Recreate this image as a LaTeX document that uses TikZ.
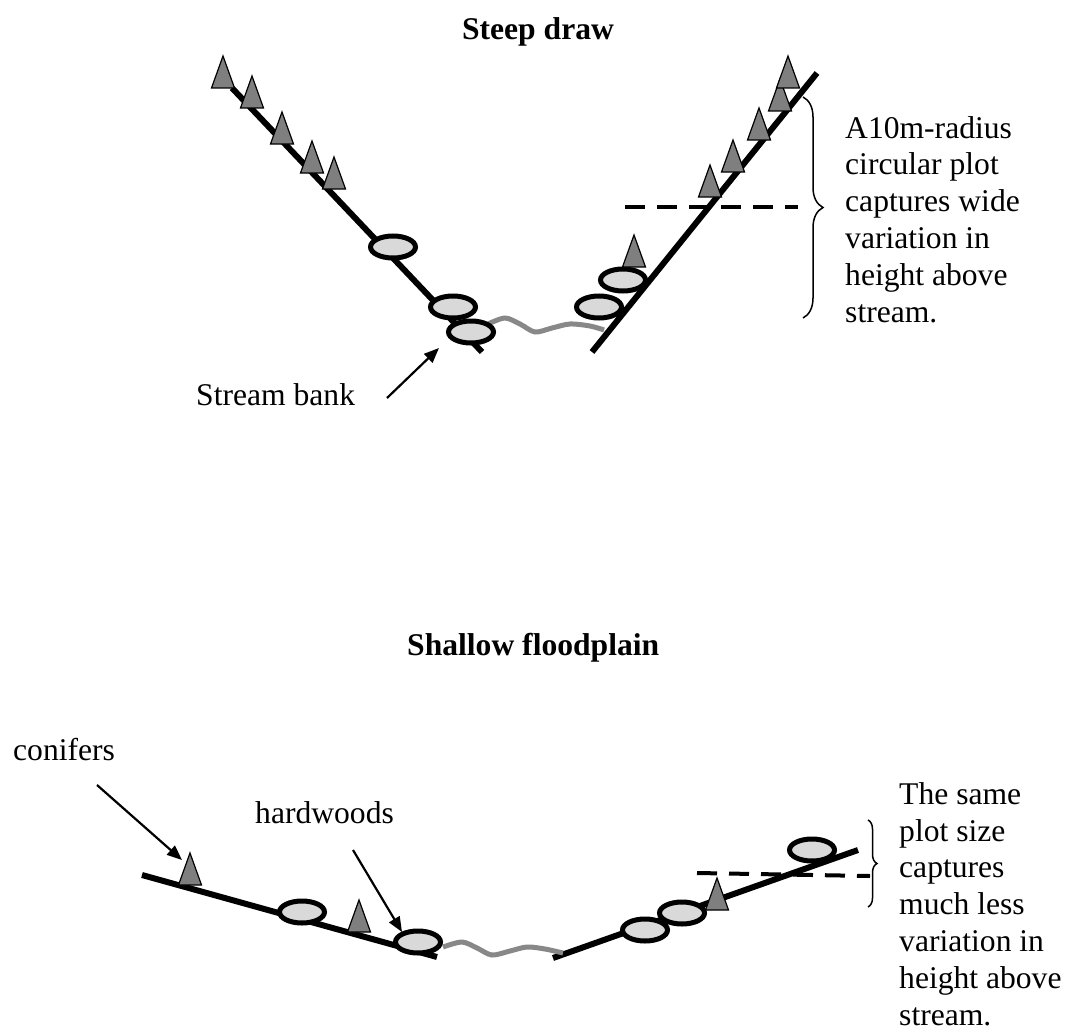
\documentclass[tikz,border=0pt]{standalone}
\usepackage{fontspec}
\setmainfont{Liberation Serif}
\usetikzlibrary{decorations.pathreplacing,arrows.meta}
\definecolor{trigray}{HTML}{7F7F7F}
\definecolor{ellgray}{HTML}{D9D9D9}
\definecolor{streamgray}{HTML}{888888}
\begin{document}
\begin{tikzpicture}[x=1pt,y=-1pt,
  ground/.style={line width=6pt},
  streamline/.style={line width=5pt,draw=streamgray},
  plotline/.style={line width=4pt,dash pattern=on 20pt off 12pt},
  bracestyle/.style={line width=1.5pt,decorate},
  pointer/.style={line width=2.2pt,-{Triangle[length=15pt,width=12pt]}},
  lbl/.style={inner sep=0pt,font=\fontsize{31.6}{36.8}\selectfont},
  ttl/.style={inner sep=0pt,font=\fontsize{31.6}{36.8}\selectfont\bfseries},
  tree/.pic={\draw[fill=trigray,line width=1.2pt,line join=miter] (-11.5,0)--(11.5,0)--(0,-32)--cycle;},
  hard/.pic={\draw[fill=ellgray,line width=5pt] (0,0) ellipse [x radius=22.5pt,y radius=11pt];}
]
\useasboundingbox (0,0) rectangle (1067,1030);

% ---------- Steep draw ----------
\node[ttl,anchor=base] (t1) at (538,40) {Steep draw};

\draw[ground] (232,88) -- (482,352);
\draw[streamline] plot[smooth] coordinates {(488,324) (505,318) (520,324) (535,332) (552,328) (570,324) (590,326) (604,330)};
\draw[ground] (592,352) -- (817,73);

\draw[plotline] (625,207) -- (798,207);

\foreach \p in {(393,247),(453,307),(471,332),(599,307),(623,280)} \pic at \p {hard};
\foreach \p in {(223,88),(252,108),(282,144),(312,173),(334,189),
                (634,267),(710,197),(733,172),(759,140),(780,111),(788,88)} \pic at \p {tree};

\draw[bracestyle,decoration={brace,amplitude=20pt}] (803,97) -- (803,318);
\node[lbl,anchor=base west,align=left] (note1) at (845,322)
  {A10m-radius\\circular plot\\captures wide\\variation in\\height above\\stream.};

\node[lbl,anchor=base west] (bank) at (196,405) {Stream bank};
\coordinate (bankfrom) at (387,398);
\coordinate (bankto) at (439,348);
\draw[pointer] (bankfrom) -- (bankto);

% ---------- Shallow floodplain ----------
\node[ttl,anchor=base west] (t2) at (407,655) {Shallow floodplain};

\draw[ground] (142,875) -- (437,957);
\draw[ground] (553,958) -- (858,850);
\draw[streamline] plot[smooth] coordinates {(443,947) (462,942) (477,948) (492,955) (510,951) (527,947) (545,949) (563,953)};

\draw[plotline] (697,873) -- (870,876);

\foreach \p in {(302,912),(418,942),(645,930),(682,913),(812,850)} \pic at \p {hard};
\foreach \p in {(190,885),(359,932),(717,910)} \pic at \p {tree};

\draw[bracestyle,decoration={brace,amplitude=9pt}] (868,820) -- (868,907);
\node[lbl,anchor=base west,align=left] (note2) at (899,1025)
  {The same\\plot size\\captures\\much less\\variation in\\height above\\stream.};

\node[lbl,anchor=base west] (conif) at (13,760) {conifers};
\coordinate (coniffrom) at (97,785);
\coordinate (conifto) at (182,860);
\draw[pointer] (coniffrom) -- (conifto);

\node[lbl,anchor=base west] (hardw) at (255,823) {hardwoods};
\coordinate (hardfrom) at (353,850);
\coordinate (hardto) at (402,932);
\draw[pointer] (hardfrom) -- (hardto);
\end{tikzpicture}
\end{document}
